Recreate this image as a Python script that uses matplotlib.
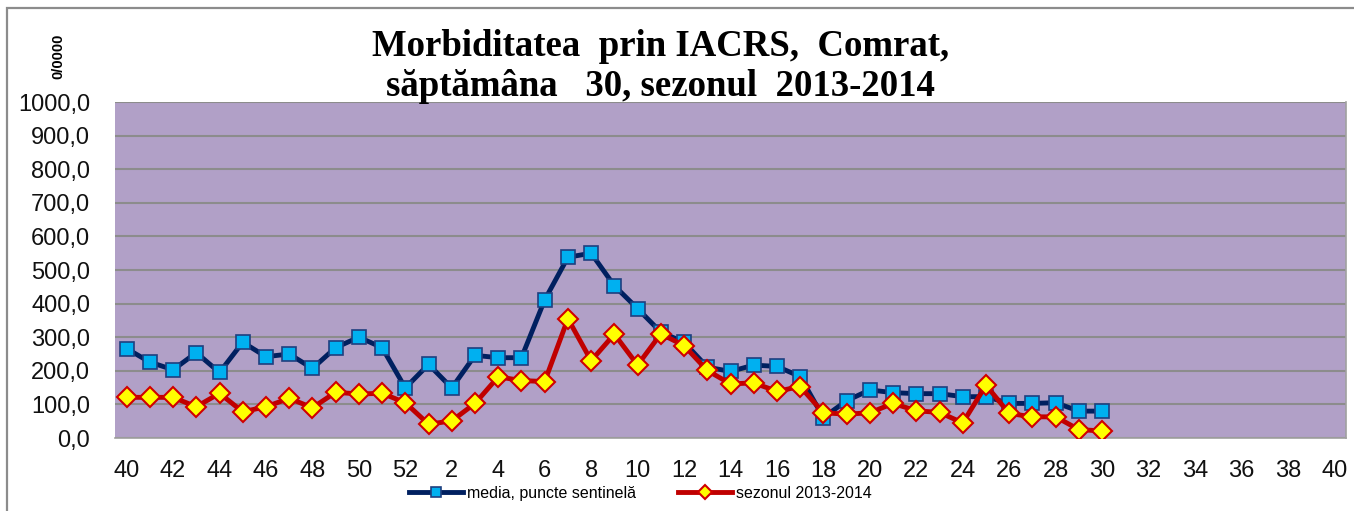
import numpy as np
import matplotlib.pyplot as plt
from matplotlib.patches import Rectangle

# ---- data ----
weeks = list(range(40, 53)) + list(range(1, 41))
media = [266, 226, 203, 254, 195, 285, 242, 250, 207, 269, 300, 269, 149,
         219, 149, 246, 239, 239, 411, 538, 550, 453, 385, 315, 285, 211,
         198, 217, 213, 183, 61, 111, 143, 135, 132, 132, 123, 123, 103,
         103, 105, 80, 80]
sezon = [121, 121, 121, 93, 133, 78, 93, 118, 90, 136, 131, 133, 105,
         41, 51, 103, 182, 171, 168, 355, 230, 309, 217, 310, 275, 201,
         161, 164, 139, 153, 75, 71, 75, 103, 81, 76, 45, 157, 73,
         63, 63, 25, 21]
yticks = np.arange(0, 1001, 100)

BG = "#B1A0C7"
GRID = "#8C8C8C"

fig = plt.figure(figsize=(13.54, 5.11), dpi=100)
ax = fig.add_axes([115 / 1354, 1 - 438 / 511, 1231 / 1354, 336 / 511])
ax.set_facecolor(BG)

x = np.arange(len(media))
ax.plot(x, media, color="#002060", linewidth=3.5, marker="s", markersize=10,
        markerfacecolor="#00B0F0", markeredgecolor="#1F3F7F", markeredgewidth=1.2,
        label="media, puncte sentinelă", zorder=3)
ax.plot(x, sezon, color="#C00000", linewidth=3.5, marker="D", markersize=10,
        markerfacecolor="#FFFF00", markeredgecolor="#D00000", markeredgewidth=1.5,
        label="sezonul 2013-2014", zorder=4)

ax.set_xlim(-0.5, len(weeks) - 0.5)
ax.set_ylim(0, 1000)
ax.set_yticks(yticks)
ax.set_yticklabels([f"{v:.1f}".replace(".", ",") for v in yticks])
ax.set_xticks(np.arange(0, len(weeks), 2))
ax.set_xticklabels([str(w) for w in weeks[::2]])
ax.tick_params(axis="both", length=0, labelsize=17, colors="#111111")
ax.tick_params(axis="y", pad=18)
ax.tick_params(axis="x", pad=16)
for lbl in ax.get_xticklabels() + ax.get_yticklabels():
    lbl.set_family("Liberation Sans")

ax.grid(axis="y", color=GRID, linewidth=1.5)
ax.set_axisbelow(True)
for s in ["top", "left"]:
    ax.spines[s].set_visible(False)
for s in ["bottom", "right"]:
    ax.spines[s].set_color("#A0A0A0")
    ax.spines[s].set_linewidth(1.2)

# title & unit label
fig.text(0.488, 1 - 46 / 511, "Morbiditatea  prin IACRS,  Comrat,", ha="center", va="center",
         family="Liberation Serif", fontweight="bold", fontsize=26.5)
fig.text(0.488, 1 - 86 / 511, "săptămâna   30, sezonul  2013-2014", ha="center", va="center",
         family="Liberation Serif", fontweight="bold", fontsize=26.5)
fig.text(58 / 1354, 1 - 56 / 511, "0/0000", rotation=90, ha="center", va="center",
         family="Liberation Sans", fontweight="bold", fontsize=10.5)

leg = fig.legend(loc="center", bbox_to_anchor=(0.473, 1 - 493 / 511), ncol=2, frameon=False,
                 handlelength=3.4, markerscale=0.7, columnspacing=2.6,
                 handletextpad=0.25, prop={"family": "Liberation Sans", "size": 11.5})

# outer chart frame
fig.patches.append(Rectangle((7 / 1354, -0.1), 1.2, 1.1 - 8 / 511, transform=fig.transFigure,
                             fill=False, edgecolor="#8C8C8C", linewidth=1.6))

fig.savefig("out.png", dpi=100)
